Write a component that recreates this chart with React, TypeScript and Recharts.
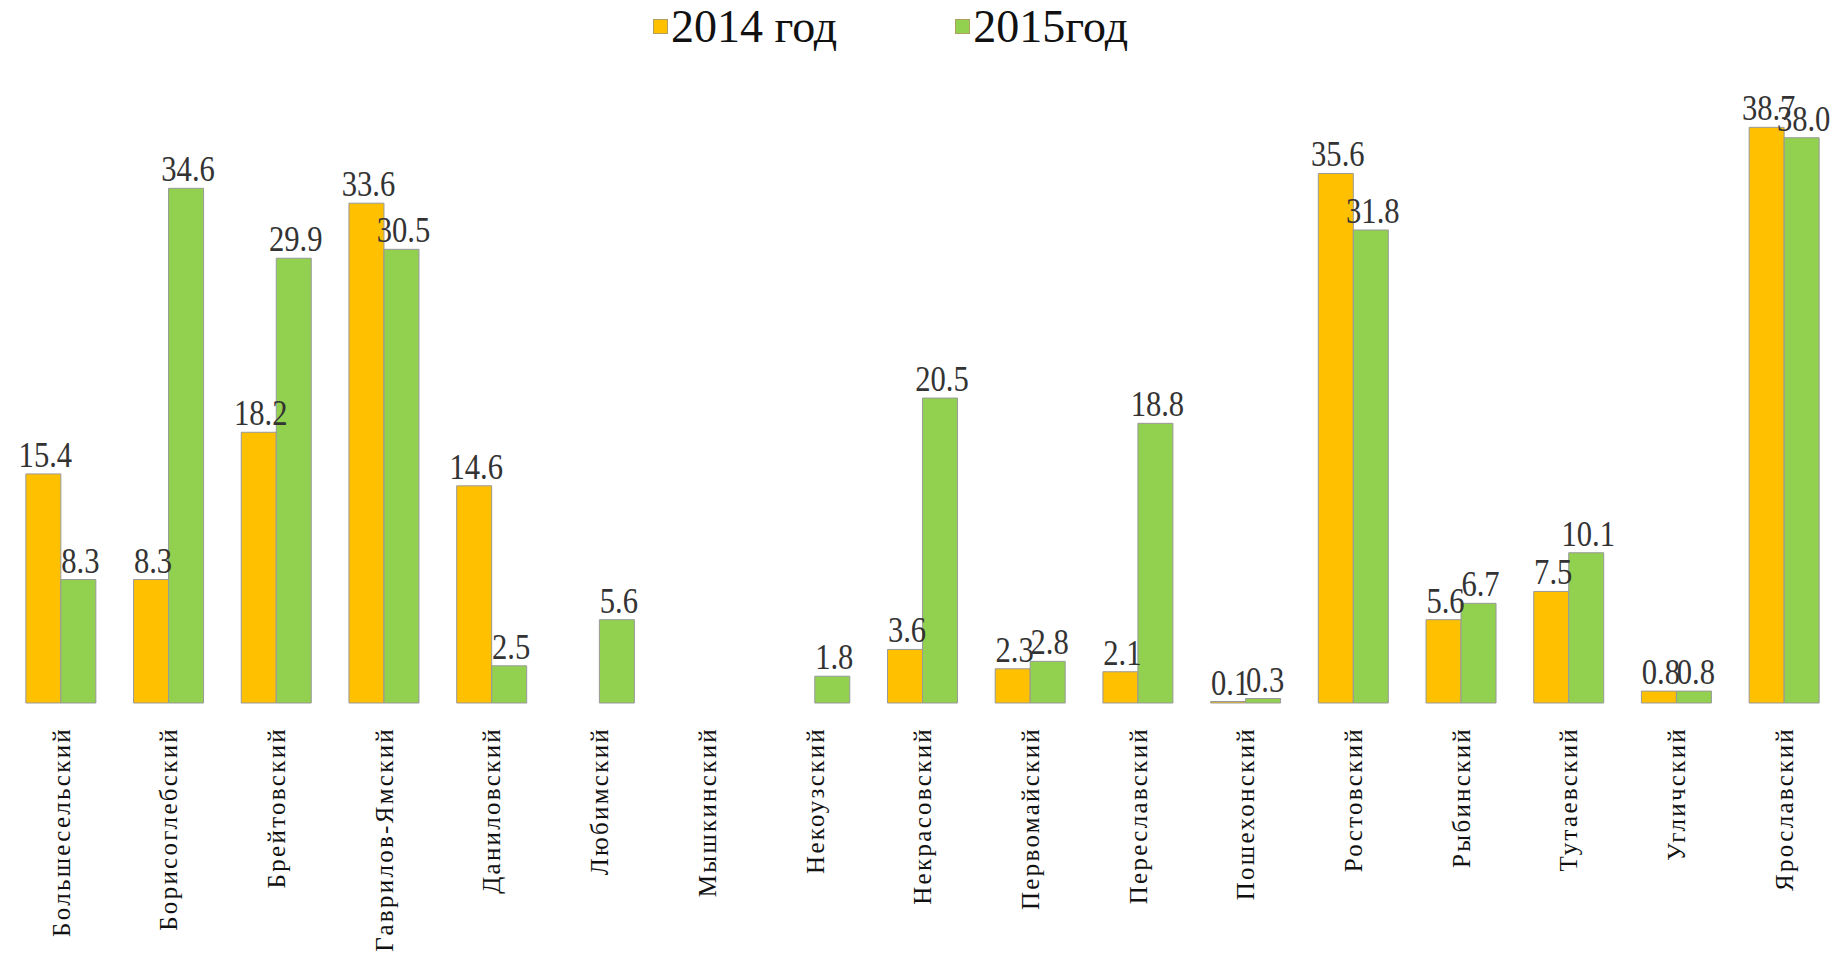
import { BarChart, Bar, XAxis, YAxis, Legend, LabelList } from "recharts";

const districts = [
  "Большесельский",
  "Борисоглебский",
  "Брейтовский",
  "Гаврилов-Ямский",
  "Даниловский",
  "Любимский",
  "Мышкинский",
  "Некоузский",
  "Некрасовский",
  "Первомайский",
  "Переславский",
  "Пошехонский",
  "Ростовский",
  "Рыбинский",
  "Тутаевский",
  "Угличский",
  "Ярославский",
];

const y2014 = [15.4, 8.3, 18.2, 33.6, 14.6, null, null, null, 3.6, 2.3, 2.1, 0.1, 35.6, 5.6, 7.5, 0.8, 38.7];
const y2015 = [8.3, 34.6, 29.9, 30.5, 2.5, 5.6, null, 1.8, 20.5, 2.8, 18.8, 0.3, 31.8, 6.7, 10.1, 0.8, 38.0];

const seriesNames = ["2014 год", "2015год"];
const colors = ["#FFC000", "#92D050"];

const data = districts.map((name, i) => ({ name, a: y2014[i], b: y2015[i] }));

const ValueLabel = (props: any) => {
  const { x, y, width, value } = props;
  if (value === null || value === undefined) return null;
  const cx = x + width / 2 + 2;
  return (
    <text
      transform={`translate(${cx},${y - 7}) scale(0.85,1)`}
      textAnchor="middle"
      fontFamily="Liberation Serif"
      fontSize={36}
      fill="#333"
    >
      {value.toFixed(1)}
    </text>
  );
};

const DistrictTick = (props: any) => {
  const { x, y, payload } = props;
  return (
    <text
      transform={`translate(${x},${y + 18}) rotate(-90)`}
      textAnchor="end"
      dy="0.35em"
      fontFamily="Liberation Serif"
      fontSize={25}
      letterSpacing={2.3}
      fill="#111"
    >
      {payload.value}
    </text>
  );
};

const LegendBox = () => (
  <div style={{ display: "flex", justifyContent: "center", gap: 118, fontFamily: "Liberation Serif", fontSize: 46, color: "#111", paddingRight: 64 }}>
    {seriesNames.map((s, i) => (
      <div key={s} style={{ display: "flex", alignItems: "center" }}>
        <span style={{ width: 13, height: 13, background: colors[i], border: "1px solid #b0a060", marginRight: 3 }} />
        <span>{s}</span>
      </div>
    ))}
  </div>
);

export default function App() {
  return (
    <div style={{ width: 1845, height: 979, background: "#fff" }}>
      <style>{`body{margin:0}`}</style>
      <BarChart
        width={1845}
        height={979}
        data={data}
        margin={{ top: 108, right: 7, bottom: 0, left: 7 }}
        barCategoryGap="17.5%"
        barGap={0}
      >
        <XAxis
          dataKey="name"
          interval={0}
          axisLine={false}
          tickLine={false}
          tickMargin={0}
          height={276}
          tick={<DistrictTick />}
        />
        <YAxis hide domain={[0, 40]} />
        <Legend
          layout="horizontal"
          verticalAlign="middle"
          align="center"
          wrapperStyle={{ top: 0, left: 0, width: 1845 }}
          content={<LegendBox />}
        />
        <Bar dataKey="a" name={seriesNames[0]} fill={colors[0]} stroke="#999" strokeWidth={1} isAnimationActive={false}>
          <LabelList dataKey="a" content={<ValueLabel />} />
        </Bar>
        <Bar dataKey="b" name={seriesNames[1]} fill={colors[1]} stroke="#999" strokeWidth={1} isAnimationActive={false}>
          <LabelList dataKey="b" content={<ValueLabel />} />
        </Bar>
      </BarChart>
    </div>
  );
}
